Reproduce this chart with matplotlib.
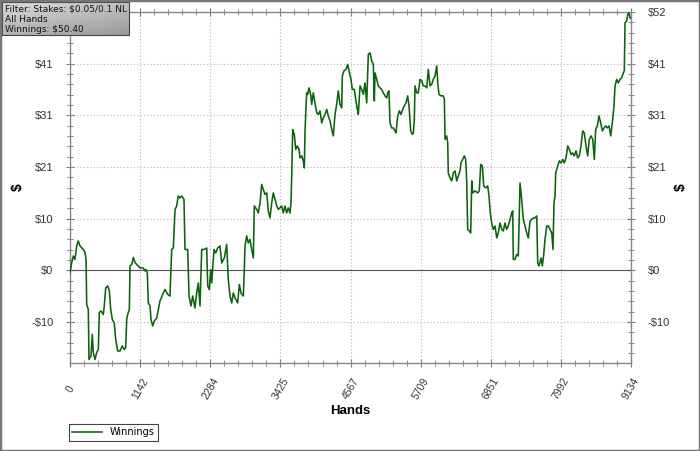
import numpy as np
import matplotlib.pyplot as plt
from matplotlib.ticker import AutoMinorLocator
from matplotlib.patches import Rectangle

# cumulative winnings ($) vs. hand number
hands = [0, 28, 54, 81, 109, 135, 163, 217, 244, 261, 272, 298, 309, 342, 363, 379,
         407, 435, 461, 477, 505, 542, 558, 581, 614, 640, 663, 689, 721, 744, 777,
         814, 852, 884, 907, 923, 939, 966, 977, 1005, 1031, 1058, 1086, 1140, 1193,
         1221, 1237, 1259, 1275, 1303, 1319, 1347, 1373, 1412, 1465, 1519, 1547, 1591,
         1628, 1656, 1682, 1710, 1737, 1763, 1791, 1819, 1856, 1872, 1916, 1938, 1970,
         1998, 2035, 2063, 2089, 2117, 2144, 2187, 2226, 2242, 2268, 2291, 2307, 2345,
         2372, 2405, 2442, 2470, 2512, 2551, 2577, 2605, 2633, 2659, 2687, 2730, 2757,
         2784, 2822, 2838, 2849, 2877, 2903, 2931, 2958, 2985, 3001, 3040, 3066, 3094,
         3121, 3147, 3175, 3203, 3229, 3256, 3284, 3310, 3338, 3366, 3392, 3447, 3473,
         3501, 3528, 3554, 3582, 3598, 3610, 3626, 3652, 3675, 3701, 3729, 3745, 3773,
         3799, 3815, 3826, 3843, 3854, 3870, 3891, 3919, 3935, 3961, 3989, 4017, 4043,
         4071, 4098, 4124, 4152, 4180, 4206, 4233, 4261, 4287, 4315, 4342, 4368, 4396,
         4424, 4434, 4461, 4494, 4522, 4543, 4575, 4596, 4629, 4652, 4678, 4694, 4722,
         4750, 4776, 4803, 4831, 4857, 4885, 4912, 4938, 4955, 4966, 4994, 5020, 5047,
         5075, 5101, 5129, 5157, 5173, 5194, 5210, 5238, 5264, 5292, 5308, 5336, 5362,
         5389, 5417, 5443, 5471, 5498, 5520, 5547, 5573, 5590, 5606, 5617, 5645, 5671,
         5699, 5727, 5752, 5780, 5808, 5834, 5862, 5889, 5915, 5943, 5971, 5987, 6008,
         6041, 6078, 6095, 6106, 6133, 6150, 6159, 6187, 6215, 6241, 6269, 6297, 6322,
         6350, 6366, 6394, 6420, 6443, 6459, 6475, 6501, 6524, 6541, 6557, 6594, 6638,
         6664, 6687, 6713, 6736, 6768, 6801, 6822, 6843, 6866, 6892, 6920, 6948, 6973,
         7001, 7029, 7055, 7083, 7110, 7136, 7164, 7192, 7208, 7218, 7245, 7273, 7299,
         7327, 7354, 7381, 7408, 7436, 7462, 7490, 7517, 7543, 7571, 7599, 7615, 7636,
         7669, 7690, 7713, 7734, 7762, 7788, 7815, 7843, 7864, 7880, 7897, 7908, 7941,
         7967, 7994, 8022, 8048, 8076, 8104, 8130, 8157, 8185, 8211, 8239, 8266, 8292,
         8320, 8348, 8374, 8401, 8429, 8455, 8483, 8511, 8537, 8559, 8586, 8613, 8641,
         8667, 8695, 8722, 8748, 8776, 8804, 8830, 8857, 8874, 8901, 8927, 8955, 8983,
         9009, 9025, 9037, 9064, 9081, 9102, 9118, 9134]
winnings = [-0.5, 1.6, 2.9, 2.2, 4.9, 5.9, 4.9, 4.2, 3.6, 2.2, -6.8, -7.8, -17.8, -17.1,
            -12.8, -16.4, -17.8, -16.4, -15.8, -8.4, -8.1, -8.8, -7.1, -3.5, -3.1, -4.1,
            -7.8, -9.8, -10.5, -13.8, -16.1, -16.1, -15.1, -15.8, -15.4, -9.8, -8.8, -7.8,
            0.9, 1.2, 2.6, 1.6, 1.2, 0.5, 0.5, -0.1, 0.2, -0.5, -6.5, -7.1, -9.8, -11.1,
            -10.1, -9.5, -6.1, -4.5, -3.8, -4.8, -5.1, 4.2, 4.5, 12.2, 12.9, 14.9, 14.5,
            14.9, 14.2, 4.2, 4.2, -5.1, -7.1, -5.1, -7.5, -4.5, -2.5, -7.1, 4.2, 4.2, 4.5,
            -3.1, -3.8, 0.2, -2.5, 4.2, 3.5, 4.5, 4.9, 1.5, 2.5, 5.2, -1.8, -5.1, -6.5,
            -4.5, -5.5, -6.5, -2.8, -4.5, -5.1, 0.2, 4.9, 6.9, 5.5, 6.2, 4.2, 2.5, 12.9,
            12.2, 11.5, 13.5, 17.2, 16.2, 15.2, 15.5, 11.9, 10.5, 13.5, 15.5, 14.2, 12.9,
            12.2, 12.9, 11.5, 12.9, 11.5, 12.5, 11.5, 13.5, 18.9, 28.2, 27.2, 24.2, 24.9,
            24.2, 22.5, 22.9, 21.9, 20.5, 27.5, 32.9, 35.5, 35.2, 36.5, 35.2, 33.2, 35.5,
            33.5, 31.5, 31.2, 31.9, 29.5, 30.5, 31.2, 32.2, 30.9, 29.9, 28.2, 26.9, 31.2,
            33.2, 35.9, 33.2, 32.5, 38.9, 39.9, 40.2, 41.2, 39.9, 38.2, 36.2, 36.2, 34.2,
            32.2, 31.2, 36.9, 36.2, 35.2, 37.5, 33.5, 43.2, 43.5, 41.9, 41.2, 33.9, 39.5,
            38.2, 36.9, 36.5, 36.2, 35.5, 34.9, 34.5, 35.5, 35.9, 29.5, 28.5, 28.5, 27.9,
            27.5, 30.9, 31.9, 31.2, 32.2, 32.9, 33.5, 34.9, 32.9, 27.9, 27.2, 27.5, 30.2,
            36.9, 35.5, 35.5, 38.2, 37.9, 36.9, 36.9, 36.5, 40.2, 36.9, 37.2, 38.2, 38.9,
            40.9, 37.5, 35.2, 34.9, 34.9, 34.2, 26.2, 26.9, 25.5, 19.5, 18.5, 17.9, 19.5,
            19.9, 17.9, 18.9, 19.9, 21.5, 22.2, 22.9, 22.2, 17.9, 8.2, 7.9, 7.5, 17.9,
            15.5, 15.9, 15.5, 15.9, 21.2, 20.9, 16.9, 16.5, 16.9, 14.9, 11.5, 9.5, 8.2,
            8.9, 6.5, 7.5, 9.5, 8.2, 7.9, 9.5, 8.2, 8.9, 10.2, 11.5, 11.9, 2.2, 2.2, 3.2,
            2.9, 17.5, 14.2, 10.2, 8.9, 7.5, 6.5, 9.9, 10.2, 10.5, 10.5, 10.9, 1.5, 0.9,
            2.5, 0.9, 3.2, 6.2, 8.9, 8.9, 8.2, 7.5, 4.2, 13.5, 14.9, 19.5, 20.9, 21.9,
            21.5, 22.2, 21.5, 22.5, 24.9, 24.2, 23.2, 23.5, 22.9, 23.9, 22.5, 22.9, 24.9,
            27.9, 27.5, 24.9, 22.9, 26.2, 26.9, 26.2, 22.2, 28.2, 28.9, 30.9, 29.5, 27.9,
            28.5, 28.9, 28.5, 28.9, 26.9, 29.5, 32.9, 36.9, 38.2, 37.5, 38.2, 38.5, 39.5,
            39.9, 49.5, 49.9, 51.2, 51.5, 50.5, 50.4]

xtick_vals = [0, 1142, 2284, 3425, 4567, 5709, 6851, 7992, 9134]
ytick_vals = [-10.33, 0, 10.33, 20.67, 31.0, 41.33, 51.67]
ytick_labels = ['-$10', '$0', '$10', '$21', '$31', '$41', '$52']
info_lines = ['Filter: Stakes: $0.05/0.1 NL', 'All Hands', 'Winnings: $50.40']

W, H = 700, 451
fig = plt.figure(figsize=(W / 100, H / 100), dpi=100)
fig.patch.set_facecolor('white')

ax = fig.add_axes([70 / W, 1 - 363 / H, 561 / W, 351 / H])
ax.plot(hands, winnings, color='#0d620d', lw=1.15, label='Winnings', zorder=3)
ax.axhline(0, color='#555555', lw=0.8, zorder=2)

ax.set_xlim(0, 9134)
ax.set_ylim(-18.5, 51.67)
ax.set_xticks(xtick_vals)
ax.set_xticklabels([str(v) for v in xtick_vals], rotation=60, ha='center', va='center',
                   family='Liberation Sans', fontsize=7.5, color='#333333')
ax.set_yticks(ytick_vals)
ax.set_yticklabels(ytick_labels, family='Liberation Sans', fontsize=8, color='#333333')
ax.xaxis.set_minor_locator(AutoMinorLocator(5))
ax.yaxis.set_minor_locator(AutoMinorLocator(5))
ax.tick_params(which='major', direction='inout', length=6, width=0.8, color='#777777',
               top=True, right=True, labelright=True)
ax.tick_params(which='minor', direction='inout', length=5, width=0.7, color='#888888',
               top=True, right=True)
ax.tick_params(axis='x', pad=15.5)
ax.tick_params(axis='y', pad=9)
# the left "$52" sits under the info box in the reference
ax.yaxis.get_major_ticks()[-1].label1.set_visible(False)
for sp in ax.spines.values():
    sp.set_color('#888888')
    sp.set_linewidth(1.0)
ax.grid(which='major', linestyle=(0, (1, 2)), color='#b5b5b5', lw=0.8)

fig.text(350 / W, 1 - 411 / H, 'Hands', ha='center', va='center', weight='bold',
         fontsize=9.5, family='Liberation Sans')
fig.text(18 / W, 1 - 187 / H, '$', ha='center', va='center', weight='bold',
         fontsize=10, rotation=90, family='Liberation Sans')
fig.text(681 / W, 1 - 187 / H, '$', ha='center', va='center', weight='bold',
         fontsize=10, rotation=90, family='Liberation Sans')

leg = fig.legend(loc='upper left', bbox_to_anchor=(69 / W, 1 - 424 / H), borderaxespad=0,
                 fancybox=False, edgecolor='#444444', framealpha=1, fontsize=7,
                 handlelength=3, borderpad=0.35, handletextpad=0.8)
leg.get_frame().set_linewidth(0.8)

# info box with gray gradient, top left
ibox = fig.add_axes([2 / W, 1 - 35 / H, 127 / W, 33 / H])
gy, gx = np.mgrid[0:1:33j, 0:1:127j]
grad = 0.86 - 0.26 * (0.6 * gy + 0.4 * gx)
ibox.imshow(grad, cmap='gray', vmin=0, vmax=1, aspect='auto', extent=(0, 1, 0, 1),
            origin='upper')
ibox.set_xticks([])
ibox.set_yticks([])
for sp in ibox.spines.values():
    sp.set_color('#444444')
    sp.set_linewidth(0.8)
for i, line in enumerate(info_lines):
    ibox.text(3 / 127, 1 - (6.5 + 10.5 * i) / 33, line, transform=ibox.transAxes,
              ha='left', va='center', fontsize=6.5, color='#111111')

fig.patches.append(Rectangle((0, 0), 1, 1, transform=fig.transFigure, fill=False,
                             edgecolor='#777777', lw=2.5))

fig.savefig('out.png', dpi=100)
